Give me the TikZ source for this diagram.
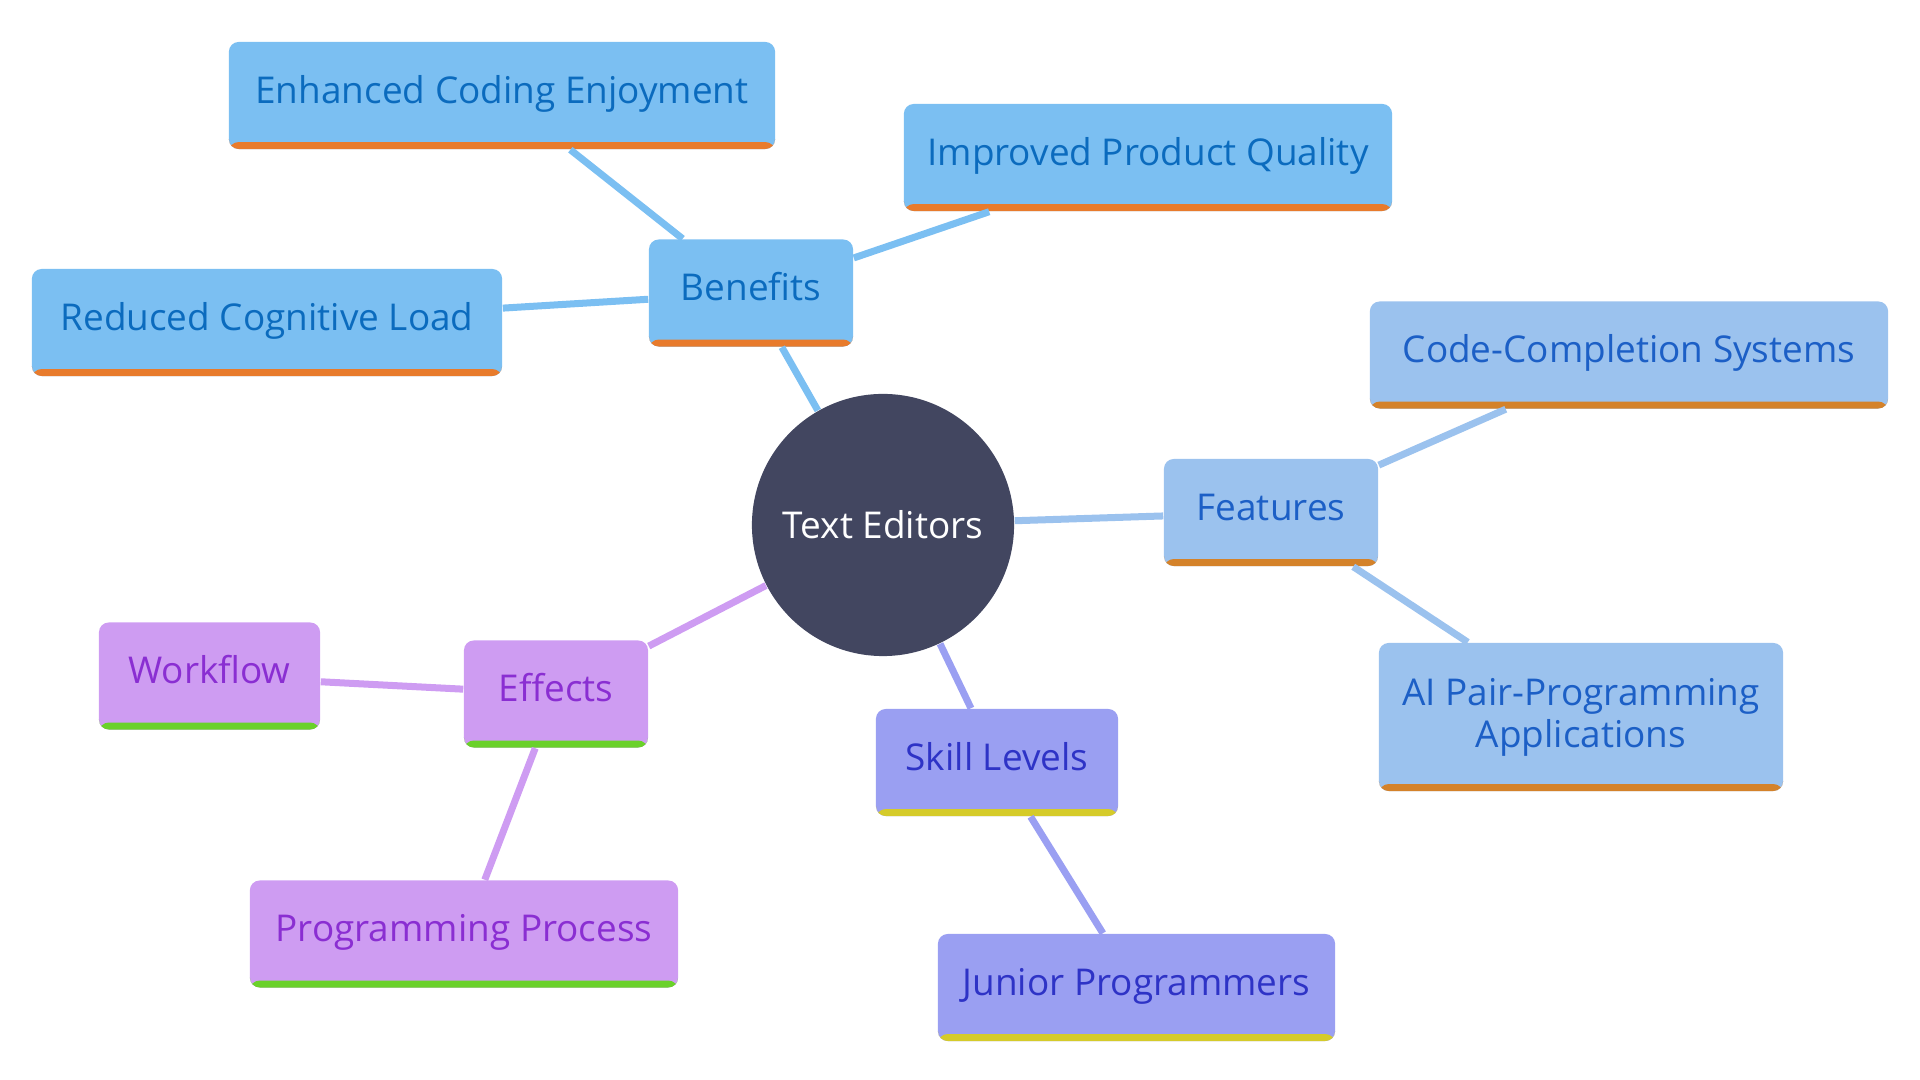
\documentclass[tikz,border=0pt]{standalone}
\usepackage{fontspec}
\setmainfont{Open Sans}
\usetikzlibrary{positioning}

\definecolor{hubfill}{HTML}{424660}
\definecolor{benfill}{HTML}{7BBFF2}
\definecolor{bentext}{HTML}{0B6BBE}
\definecolor{benbar}{HTML}{E87B2C}
\definecolor{featfill}{HTML}{9BC2EE}
\definecolor{feattext}{HTML}{1C5FC6}
\definecolor{featbar}{HTML}{D4822A}
\definecolor{efffill}{HTML}{CE9CF2}
\definecolor{efftext}{HTML}{8A2ED2}
\definecolor{effbar}{HTML}{6AD12A}
\definecolor{skillfill}{HTML}{9A9FF2}
\definecolor{skilltext}{HTML}{2E33C6}
\definecolor{skillbar}{HTML}{D5CB2A}

\begin{document}
\begin{tikzpicture}[x=0.01cm, y=-0.01cm]
        \tikzstyle{box} = [rectangle, rounded corners=2.8pt, minimum height=1.07cm, inner sep=0pt, text centered, align=center, text height=0.75em, text depth=0.3em, font=\fontsize{10.5}{12}\selectfont]
        \tikzstyle{bar} = [path picture={\fill[#1] (path picture bounding box.south west) rectangle ([yshift=0.07cm]path picture bounding box.south east);}]
        \tikzstyle{benefit} = [box, fill=benfill, text=bentext, bar=benbar]
        \tikzstyle{feature} = [box, fill=featfill, text=feattext, bar=featbar]
        \tikzstyle{effect} = [box, fill=efffill, text=efftext, bar=effbar]
        \tikzstyle{skill} = [box, fill=skillfill, text=skilltext, bar=skillbar]
        \tikzstyle{hub} = [circle, fill=hubfill, text=white, minimum size=2.62cm, inner sep=0pt, font=\fontsize{10.5}{12}\selectfont]
        \tikzstyle{link} = [line width=0.07cm]
        \useasboundingbox (0,0) rectangle (1920,1080);
		\node [hub] (editors) at (883, 525) {Text Editors};
		\node [benefit, minimum width=2.04cm] (benefits) at (751, 293) {Benefits};
		\node [benefit, minimum width=5.46cm] (enjoy) at (502, 95.5) {Enhanced Coding Enjoyment};
		\node [benefit, minimum width=4.88cm] (quality) at (1148, 157.5) {Improved Product Quality};
		\node [benefit, minimum width=4.70cm] (cognitive) at (267, 322.5) {Reduced Cognitive Load};
		\node [feature, minimum width=2.14cm] (features) at (1271, 512.5) {Features};
		\node [feature, minimum width=5.18cm] (completion) at (1629, 355) {Code-Completion Systems};
		\node [feature, minimum width=4.04cm, minimum height=1.48cm, text height={}, text depth={}] (pairprog) at (1581, 717) {AI Pair-Programming\\Applications};
		\node [effect, minimum width=1.84cm] (effects) at (556, 694) {Effects};
		\node [effect, minimum width=2.21cm] (workflow) at (209.5, 676) {Workflow};
		\node [effect, minimum width=4.28cm] (process) at (464, 934) {Programming Process};
		\node [skill, minimum width=2.42cm] (skills) at (997, 762.5) {Skill Levels};
		\node [skill, minimum width=3.97cm] (junior) at (1136.5, 987.5) {Junior Programmers};
		\draw[link, benfill] (editors) to (benefits);
		\draw[link, benfill] (benefits) to (enjoy);
		\draw[link, benfill] (benefits) to (quality);
		\draw[link, benfill] (benefits) to (cognitive);
		\draw[link, featfill] (editors) to (features);
		\draw[link, featfill] (features) to (completion);
		\draw[link, featfill] (features) to (pairprog);
		\draw[link, efffill] (editors) to (effects);
		\draw[link, efffill] (effects) to (workflow);
		\draw[link, efffill] (effects) to (process);
		\draw[link, skillfill] (editors) to (skills);
		\draw[link, skillfill] (skills) to (junior);
    \end{tikzpicture}
\end{document}
